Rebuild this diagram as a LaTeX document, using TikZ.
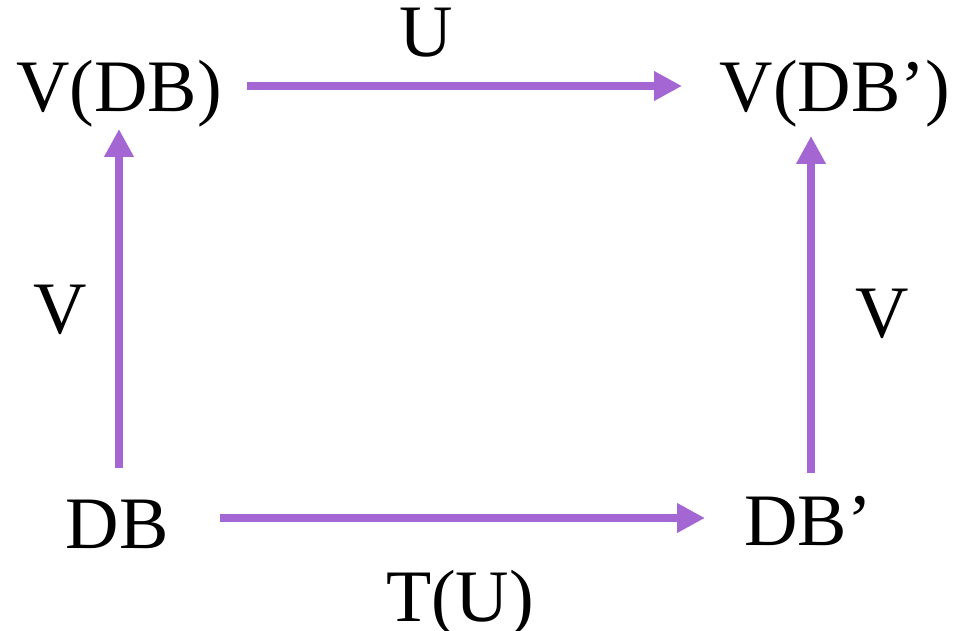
\documentclass[tikz,border=0pt]{standalone}
\usepackage{fontspec}
\setmainfont{Liberation Serif}
\usetikzlibrary{arrows.meta}
\definecolor{arrowpurple}{RGB}{164,102,210}
\begin{document}
\begin{tikzpicture}[x=1pt,y=-1pt,
  lbl/.style={anchor=base,inner sep=0pt,font=\fontsize{74}{78}\selectfont},
  arr/.style={draw=arrowpurple,line width=8pt,-{Triangle[length=28pt,width=28pt]}}]
\useasboundingbox (0,0) rectangle (959,631);
\node[lbl] (vdb) at (119,112) {V(DB)};
\node[lbl] (vdbp) at (835,112) {V(DB’)};
\node[lbl] (db) at (117,548) {DB};
\node[lbl] (dbp) at (808,545) {DB’};
\node[lbl] (u) at (426,57) {U};
\node[lbl] (tu) at (460,621) {T(U)};
\node[lbl] (vl) at (60,333) {V};
\node[lbl] (vr) at (882,337) {V};
\coordinate (topS) at (247,86);
\coordinate (topE) at (682,86);
\coordinate (botS) at (220,518);
\coordinate (botE) at (705,518);
\coordinate (leftS) at (119,468);
\coordinate (leftE) at (119,129);
\coordinate (rightS) at (811,473);
\coordinate (rightE) at (811,136);
\draw[arr] (topS) -- (topE);
\draw[arr] (botS) -- (botE);
\draw[arr] (leftS) -- (leftE);
\draw[arr] (rightS) -- (rightE);
\end{tikzpicture}
\end{document}
